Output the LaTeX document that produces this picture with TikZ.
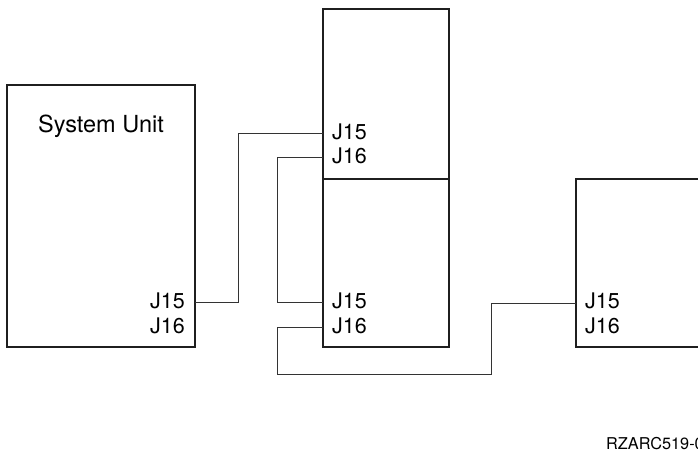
\documentclass[tikz,border=0pt]{standalone}
\usepackage{fontspec}
\setmainfont{TeX Gyre Heros}
\begin{document}
\begin{tikzpicture}[x=1pt,y=-1pt,
  unit/.style={draw=black!88,line width=1.3pt},
  wire/.style={draw=black!80,line width=0.9pt},
  lbl/.style={inner sep=0pt,font=\fontsize{21.5}{24}\selectfont,anchor=base west},
  lblr/.style={inner sep=0pt,font=\fontsize{21.5}{24}\selectfont,anchor=base east}]
\useasboundingbox (0,0) rectangle (698,457);
% boxes
\draw[unit] (7,85) rectangle (195,347);
\draw[unit] (323,9) rectangle (449,179);
\draw[unit] (323,179) rectangle (449,347);
\draw[unit] (720,179) -- (576,179) -- (576,347) -- (720,347);
% labels
\node[inner sep=0pt,anchor=base,font=\fontsize{23.5}{26}\selectfont] (su) at (101,133) {System Unit};
\node[lblr] (suA) at (185,308.5) {J15};
\node[lblr] (suB) at (185,333) {J16};
\node[lbl] (tA) at (332,139.5) {J15};
\node[lbl] (tB) at (332,164) {J16};
\node[lbl] (bA) at (332,308.5) {J15};
\node[lbl] (bB) at (332,333) {J16};
\node[lbl] (rA) at (585,308.5) {J15};
\node[lbl] (rB) at (585,333) {J16};
\node[inner sep=0pt,anchor=base west,font=\fontsize{16.3}{18}\selectfont] (id) at (606,449) {RZARC519-0};
% ports
\coordinate (p1) at (195,302);
\coordinate (p2) at (323,133);
\coordinate (p3) at (323,157);
\coordinate (p4) at (323,302);
\coordinate (p5) at (323,327);
\coordinate (p6) at (576,303);
% wires
\draw[wire] (p1) -- (238,302) -- (238,133) -- (p2);
\draw[wire] (p3) -- (277,157) -- (277,302) -- (p4);
\draw[wire] (p5) -- (277,327) -- (277,374) -- (491,374) -- (491,303) -- (p6);
\end{tikzpicture}
\end{document}
